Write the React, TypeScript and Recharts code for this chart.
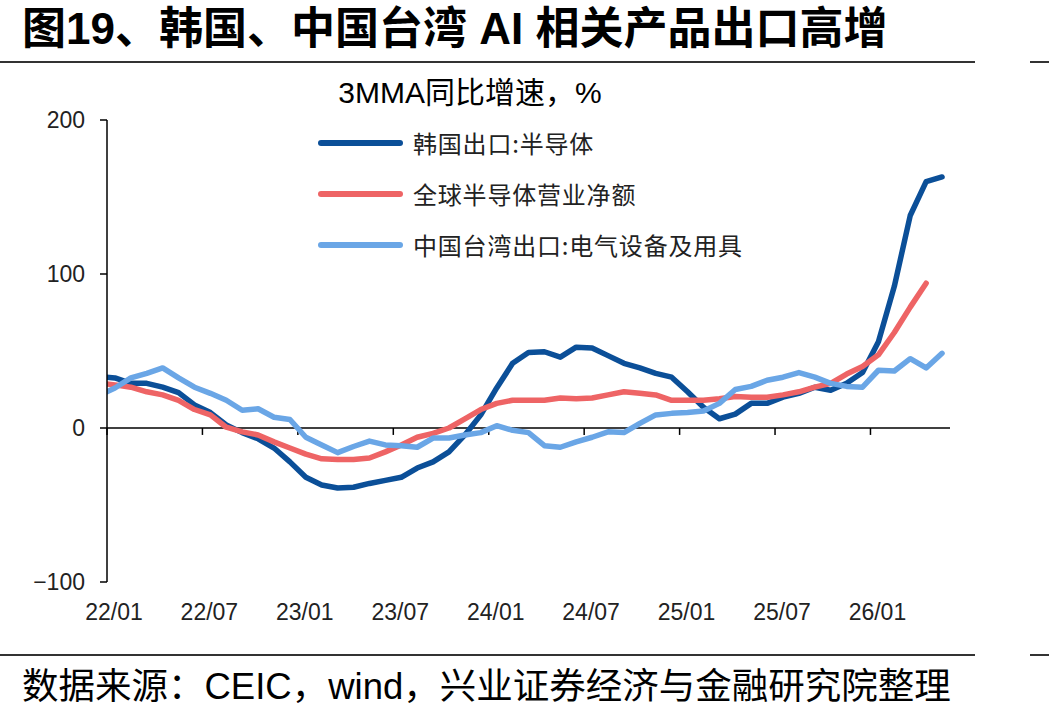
import { LineChart, Line, XAxis, YAxis, ReferenceLine } from "recharts"

// month index: -1 = 21/12, 0 = 22/01 ... 52 = 26/05
const krSemi = [
  33.5, 32.5, 29, 29, 26.5, 23, 15, 10, 2, -3, -7, -13, -22, -32, -37, -39, -38.5, -36, -34, -32,
  -26, -22, -15.5, -4.5, 8.5, 26, 42, 49, 49.5, 46, 52.5, 52, 47, 42, 39, 35.5, 33, 23.5, 13.5, 6,
  9, 16, 16, 20, 22.5, 26.5, 24.5, 29, 36, 56, 92, 138, 160, 163,
]
const globalSemi = [
  29, 28, 26.5, 23.5, 21.5, 18, 12, 8.5, 0.5, -2.5, -4.5, -9, -13, -17, -20, -20.5, -20.5, -19.5, -15.5, -11,
  -6, -3.5, 0, 6, 12, 16, 18, 18, 18, 19.5, 19, 19.5, 21.5, 23.5, 22.5, 21.5, 18, 18, 18, 19,
  20.5, 20, 20, 21.5, 23.5, 26.5, 29, 35, 40, 47.5, 62, 78.5, 94, null,
]
const twElec = [
  21, 26, 32.5, 35.5, 39, 32.5, 26.5, 22.5, 18, 11.5, 12.5, 7, 5.5, -6, -11, -16, -12, -8.5, -11, -11.5,
  -12.5, -6.5, -6.5, -4.5, -3, 1.5, -1.5, -3, -11.5, -12.5, -9, -6, -2.5, -3, 3, 8.5, 9.5, 10, 11, 16,
  25, 27, 31, 33, 36, 33, 29, 27, 26.5, 37.5, 37, 45, 39, 48.5,
]

const tickMonths = [0, 6, 12, 18, 24, 30, 36, 42, 48]
const tickLabels = ["22/01", "22/07", "23/01", "23/07", "24/01", "24/07", "25/01", "25/07", "26/01"]
const yTicks = [-100, 0, 100, 200]

const series = [
  { key: "kr", name: "韩国出口:半导体", color: "#0b4f98" },
  { key: "semi", name: "全球半导体营业净额", color: "#ee6465" },
  { key: "tw", name: "中国台湾出口:电气设备及用具", color: "#6aa6e6" },
]

const data = krSemi.map((v, i) => ({
  m: i - 1,
  kr: v,
  semi: globalSemi[i],
  tw: twElec[i],
}))

const latin = "'Liberation Sans', Arial, 'Noto Sans CJK SC', sans-serif"

const XTick = ({ x, y, payload }: any) => {
  const idx = tickMonths.indexOf(payload.value)
  return (
    <text x={x - 1} y={y + 36} textAnchor="middle" fontSize={23} fill="#222" fontFamily={latin}>
      {tickLabels[idx]}
    </text>
  )
}

const Legend3 = () => (
  <div style={{ position: "absolute", left: 318, top: 117 }}>
    {series.map((s) => (
      <div key={s.key} style={{ display: "flex", alignItems: "center", height: 51 }}>
        <div style={{ width: 85, height: 6, borderRadius: 3, background: s.color }} />
        <span style={{ marginLeft: 10, fontSize: 24, lineHeight: 1, letterSpacing: 0.8, color: "#222", fontFamily: "'Noto Sans CJK SC', sans-serif" }}>
          {s.name}
        </span>
      </div>
    ))}
  </div>
)

export default function App() {
  return (
    <div style={{ position: "absolute", left: 0, top: 0, width: 1049, height: 720, background: "#fff", fontFamily: latin }}>
      <div style={{ position: "absolute", left: 22, top: 7, fontSize: 44, lineHeight: 1, fontWeight: 700, color: "#000", whiteSpace: "nowrap" }}>
        图19、韩国、中国台湾 AI 相关产品出口高增
      </div>
      <div style={{ position: "absolute", left: 0, top: 61, width: 975, height: 2, background: "#333" }} />
      <div style={{ position: "absolute", left: 1030, top: 61, width: 19, height: 2, background: "#333" }} />
      <div style={{ position: "absolute", left: 0, width: 940, top: 78, fontSize: 30, lineHeight: 1, textAlign: "center", color: "#000" }}>
        3MMA同比增速，%
      </div>

      <div style={{ position: "absolute", left: 0, top: 0 }}>
        <LineChart width={1049} height={720} data={data} margin={{ top: 120, right: 99, left: 0, bottom: 0 }}>
          <XAxis
            dataKey="m"
            type="number"
            domain={[-0.5, 52.5]}
            allowDataOverflow
            ticks={tickMonths}
            tick={<XTick />}
            tickLine={false}
            axisLine={false}
            tickSize={0}
            height={138}
            interval={0}
          />
          <YAxis
            type="number"
            domain={[-100, 200]}
            ticks={yTicks}
            width={107}
            tickSize={7}
            tickMargin={15}
            axisLine={{ stroke: "#000", strokeWidth: 1.5 }}
            tickLine={{ stroke: "#000", strokeWidth: 1.5 }}
            tick={{ fontSize: 23, fill: "#222", fontFamily: latin }}
            tickFormatter={(v: number) => String(v).replace("-", "−")}
            interval={0}
          />
          <ReferenceLine y={0} stroke="#000" strokeWidth={1.5} />
          {tickMonths.map((t) => (
            <ReferenceLine
              key={t}
              segment={[
                { x: t - 0.5, y: 0 },
                { x: t - 0.5, y: -4.5 },
              ]}
              stroke="#000"
              strokeWidth={1.5}
            />
          ))}
          {series.map((s) => (
            <Line
              key={s.key}
              dataKey={s.key}
              name={s.name}
              type="linear"
              stroke={s.color}
              strokeWidth={5.5}
              strokeLinejoin="round"
              strokeLinecap="round"
              dot={false}
              activeDot={false}
              isAnimationActive={false}
            />
          ))}
        </LineChart>
      </div>

      <Legend3 />

      <div style={{ position: "absolute", left: 0, top: 654, width: 975, height: 2, background: "#333" }} />
      <div style={{ position: "absolute", left: 1030, top: 654, width: 19, height: 2, background: "#333" }} />
      <div style={{ position: "absolute", left: 22, top: 669, fontSize: 36.5, lineHeight: 1, color: "#000", whiteSpace: "nowrap" }}>
        数据来源：CEIC，wind，兴业证券经济与金融研究院整理
      </div>
    </div>
  )
}
